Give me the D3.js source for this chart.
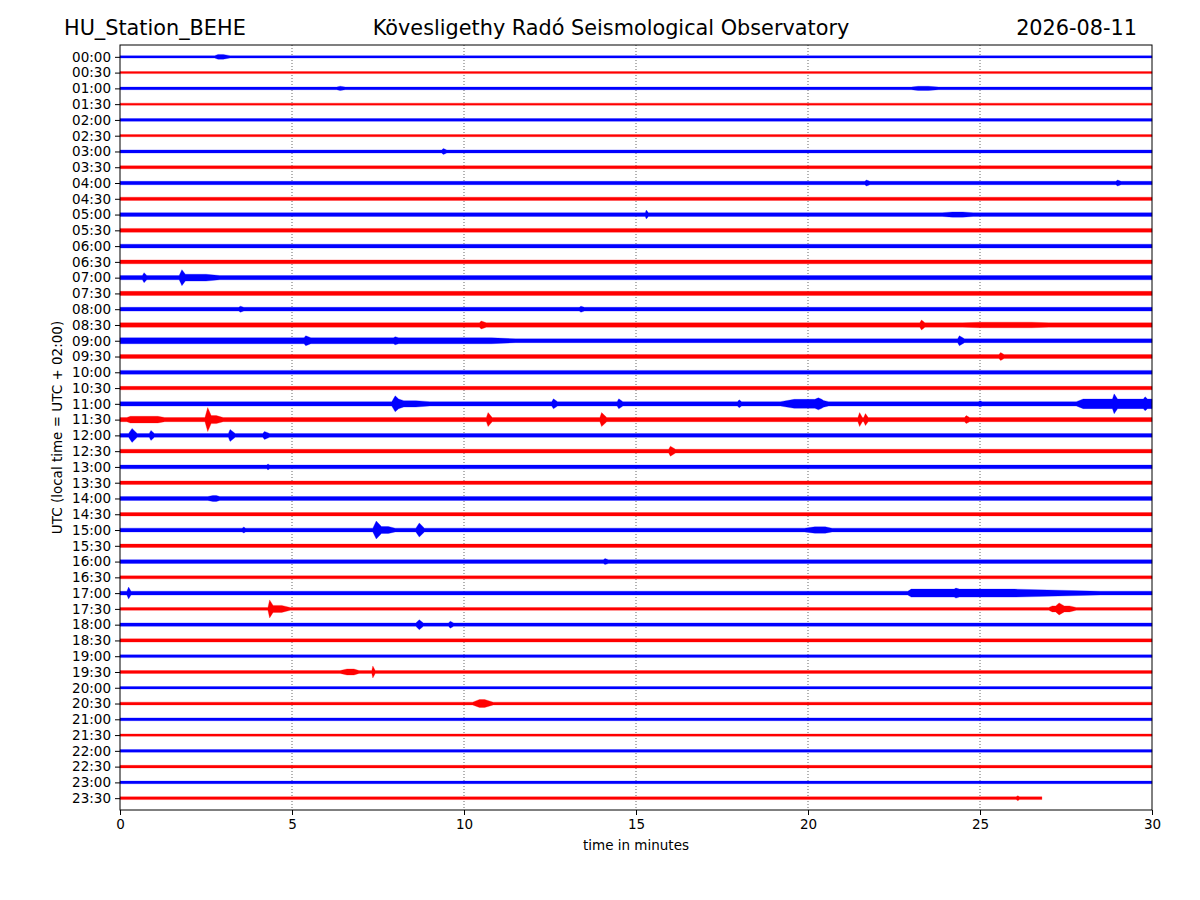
<!DOCTYPE html>
<html>
<head>
<meta charset="utf-8">
<script src="https://cdn.jsdelivr.net/npm/d3@7"></script>
<style>
  body { margin: 0; background: #fff; }
  svg { font-family: "DejaVu Sans", sans-serif; }
</style>
</head>
<body>
<svg width="1200" height="900"></svg>
<script>
// row labels (UTC, one row = 30 minutes)
let rowLabels = ["00:00","00:30","01:00","01:30","02:00","02:30","03:00","03:30",
  "04:00","04:30","05:00","05:30","06:00","06:30","07:00","07:30",
  "08:00","08:30","09:00","09:30","10:00","10:30","11:00","11:30",
  "12:00","12:30","13:00","13:30","14:00","14:30","15:00","15:30",
  "16:00","16:30","17:00","17:30","18:00","18:30","19:00","19:30",
  "20:00","20:30","21:00","21:30","22:00","22:30","23:00","23:30"];

// background noise half-amplitude of every row (relative counts)
let noiseLevel = [1.2,1.0,1.3,1.0,1.4,1.1,1.5,1.5,
  1.7,1.6,1.9,1.9,1.9,1.9,2.1,2.1,
  1.9,2.2,1.9,1.9,1.9,1.7,2.2,2.1,
  1.9,1.9,1.9,1.7,1.9,1.7,1.9,1.7,
  1.9,1.5,1.9,1.4,1.7,1.6,1.4,1.4,
  1.2,1.4,1.4,1.1,1.3,1.3,1.3,1.4];

// end of recorded data in each row (minutes)
let rowEnd = rowLabels.map((d, i) => i == 47 ? 26.8 : 30);

// events: [row, start, peak start, peak end, end, amplitude]
let events = [
  [0, 2.75, 2.85, 3.0, 3.2, 2.4],
  [2, 6.3, 6.4, 6.4, 6.55, 2.2], [2, 23.0, 23.2, 23.5, 23.8, 2.1],
  [6, 9.35, 9.4, 9.4, 9.5, 3],
  [8, 21.65, 21.7, 21.7, 21.8, 3], [8, 28.95, 29.0, 29.0, 29.1, 3],
  [10, 15.27, 15.3, 15.3, 15.36, 4.5], [10, 23.9, 24.2, 24.5, 24.8, 2.6],
  [14, 0.65, 0.7, 0.7, 0.78, 5], [14, 1.72, 1.8, 1.8, 1.95, 8], [14, 1.8, 1.9, 2.5, 2.9, 3.4],
  [16, 3.45, 3.5, 3.5, 3.6, 3], [16, 13.35, 13.4, 13.4, 13.5, 3],
  [17, 10.45, 10.5, 10.5, 10.65, 4], [17, 23.25, 23.3, 23.3, 23.4, 5], [17, 24.5, 25.0, 26.5, 27.0, 2.8],
  [18, 0, 0, 10.8, 11.5, 3.0], [18, 5.35, 5.4, 5.4, 5.55, 5], [18, 7.95, 8.0, 8.0, 8.1, 4], [18, 24.35, 24.4, 24.4, 24.55, 5],
  [19, 25.55, 25.6, 25.6, 25.7, 4],
  [22, 7.9, 8.0, 8.0, 8.25, 8], [22, 8.0, 8.1, 8.6, 9.0, 3.2], [22, 12.55, 12.6, 12.6, 12.72, 5],
  [22, 14.45, 14.5, 14.5, 14.62, 5], [22, 17.95, 18.0, 18.0, 18.07, 4], [22, 19.2, 19.6, 20.4, 20.6, 4.5],
  [22, 20.2, 20.3, 20.3, 20.45, 6], [22, 24.95, 25.0, 25.0, 25.07, 3],
  [22, 27.8, 28.0, 30, 30, 4.8], [22, 28.85, 28.9, 28.9, 29.0, 10], [22, 29.75, 29.8, 29.8, 29.87, 7],
  [23, 0.2, 0.3, 1.1, 1.3, 3.3], [23, 2.47, 2.55, 2.55, 2.7, 12], [23, 2.55, 2.65, 2.8, 3.0, 4],
  [23, 10.65, 10.7, 10.7, 10.82, 7], [23, 13.95, 14.0, 14.0, 14.15, 7],
  [23, 21.45, 21.5, 21.5, 21.58, 7], [23, 21.62, 21.67, 21.67, 21.75, 6], [23, 24.55, 24.6, 24.6, 24.7, 4],
  [24, 0.25, 0.35, 0.35, 0.5, 7], [24, 0.85, 0.9, 0.9, 1.0, 5], [24, 3.15, 3.2, 3.2, 3.35, 6], [24, 4.15, 4.2, 4.2, 4.35, 4],
  [25, 15.95, 16.0, 16.0, 16.15, 5],
  [26, 4.27, 4.3, 4.3, 4.35, 3],
  [28, 2.55, 2.7, 2.8, 2.9, 3],
  [30, 3.55, 3.6, 3.6, 3.65, 3], [30, 7.35, 7.45, 7.45, 7.65, 9], [30, 7.45, 7.6, 7.8, 8.0, 3.5],
  [30, 8.6, 8.7, 8.7, 8.85, 7], [30, 19.9, 20.2, 20.5, 20.7, 3.2],
  [32, 14.05, 14.1, 14.1, 14.2, 3],
  [34, 0.2, 0.25, 0.25, 0.32, 6], [34, 22.9, 23.0, 26.0, 28.5, 4], [34, 24.25, 24.3, 24.3, 24.4, 5],
  [35, 4.3, 4.35, 4.35, 4.45, 9], [35, 4.35, 4.45, 4.7, 4.95, 3.5], [35, 27.2, 27.3, 27.3, 27.45, 6], [35, 27.0, 27.1, 27.6, 27.8, 3],
  [36, 8.6, 8.7, 8.7, 8.82, 5], [36, 9.55, 9.6, 9.6, 9.7, 3.5],
  [39, 6.4, 6.6, 6.8, 6.95, 3], [39, 7.32, 7.35, 7.35, 7.42, 6],
  [41, 10.25, 10.45, 10.6, 10.85, 4],
  [47, 26.05, 26.1, 26.1, 26.15, 2.5]
];

let xTicks = [0, 5, 10, 15, 20, 25, 30];
let rowColors = ["#0000ff", "#ff0000"];

let svg = d3.select("svg");
let margin = {left: 120, right: 1152, top: 45, bottom: 810};

let xScale = d3.scaleLinear().domain([0, 30]).range([margin.left, margin.right]);
let yScale = d3.scaleLinear().domain([-0.75, 47.75]).range([margin.top, margin.bottom]);
let ampScale = d3.scaleLinear().domain([0, 1]).range([0, 1]);

// value of one event's envelope at time t
function eventAt(ev, t) {
  let [row, t0, t1, t2, t3, amp] = ev;
  if (t < t0 || t > t3) return 0;
  if (t < t1) return amp * (t - t0) / (t1 - t0);
  if (t <= t2) return amp;
  return amp * (t3 - t) / (t3 - t2);
}

function envelope(row) {
  let end = rowEnd[row];
  let evs = events.filter(e => e[0] == row);
  let knots = [0, end];
  evs.forEach(e => e.slice(1, 5).forEach(t => knots.push(t)));
  knots = Array.from(new Set(knots.filter(t => t >= 0 && t <= end))).sort((a, b) => a - b);
  return knots.map(t => [t, Math.max(noiseLevel[row], d3.max(evs, e => eventAt(e, t)) || 0)]);
}

// grid
svg.append("g")
  .selectAll("line")
  .data(xTicks.slice(1, -1))
  .enter()
  .append("line")
    .attr("x1", d => xScale(d)).attr("x2", d => xScale(d))
    .attr("y1", margin.top).attr("y2", margin.bottom)
    .attr("stroke", "#000").attr("stroke-width", 0.6)
    .attr("stroke-dasharray", "1,2");

// traces
let traces = svg.append("g");
rowLabels.forEach((lab, i) => {
  let area = d3.area()
    .x(d => xScale(d[0]))
    .y0(d => yScale(i) - ampScale(d[1]))
    .y1(d => yScale(i) + ampScale(d[1]));
  traces.append("path")
    .datum(envelope(i))
    .attr("d", area)
    .attr("fill", rowColors[i % 2])
    .attr("stroke", rowColors[i % 2])
    .attr("stroke-opacity", 0.35)
    .attr("stroke-width", 0.8);
});

// axes
let yAxis = d3.axisLeft(yScale)
  .tickValues(d3.range(rowLabels.length))
  .tickFormat(i => rowLabels[i])
  .tickSize(5).tickSizeOuter(0).tickPadding(4);
let yG = svg.append("g").attr("transform", `translate(${margin.left},0)`).call(yAxis);

let xAxis = d3.axisBottom(xScale)
  .tickValues(xTicks)
  .tickFormat(d3.format("d"))
  .tickSize(5).tickSizeOuter(0).tickPadding(4);
let xG = svg.append("g").attr("transform", `translate(0,${margin.bottom})`).call(xAxis);

[yG, xG].forEach(g => {
  g.select(".domain").remove();
  g.selectAll("text").attr("font-size", 13.5).attr("font-family", "DejaVu Sans").attr("fill", "#000");
  g.selectAll("line").attr("stroke", "#000");
});

// frame
svg.append("rect")
  .attr("x", margin.left).attr("y", margin.top)
  .attr("width", margin.right - margin.left).attr("height", margin.bottom - margin.top)
  .attr("fill", "none").attr("stroke", "#000").attr("stroke-width", 1);

// labels
svg.append("text")
  .attr("x", (margin.left + margin.right) / 2).attr("y", 850)
  .attr("text-anchor", "middle").attr("font-size", 13.5)
  .text("time in minutes");

svg.append("text")
  .attr("transform", `translate(62,${(margin.top + margin.bottom) / 2}) rotate(-90)`)
  .attr("text-anchor", "middle").attr("font-size", 13.5)
  .text("UTC (local time = UTC + 02:00)");

svg.append("text").attr("x", 64).attr("y", 35).attr("font-size", 20.8)
  .text("HU_Station_BEHE");
svg.append("text").attr("x", 611).attr("y", 35).attr("font-size", 20.8).attr("text-anchor", "middle")
  .text("Kövesligethy Radó Seismological Observatory");
svg.append("text").attr("x", 1137).attr("y", 35).attr("font-size", 20.8).attr("text-anchor", "end")
  .text("2026-08-11");
</script>
</body>
</html>
